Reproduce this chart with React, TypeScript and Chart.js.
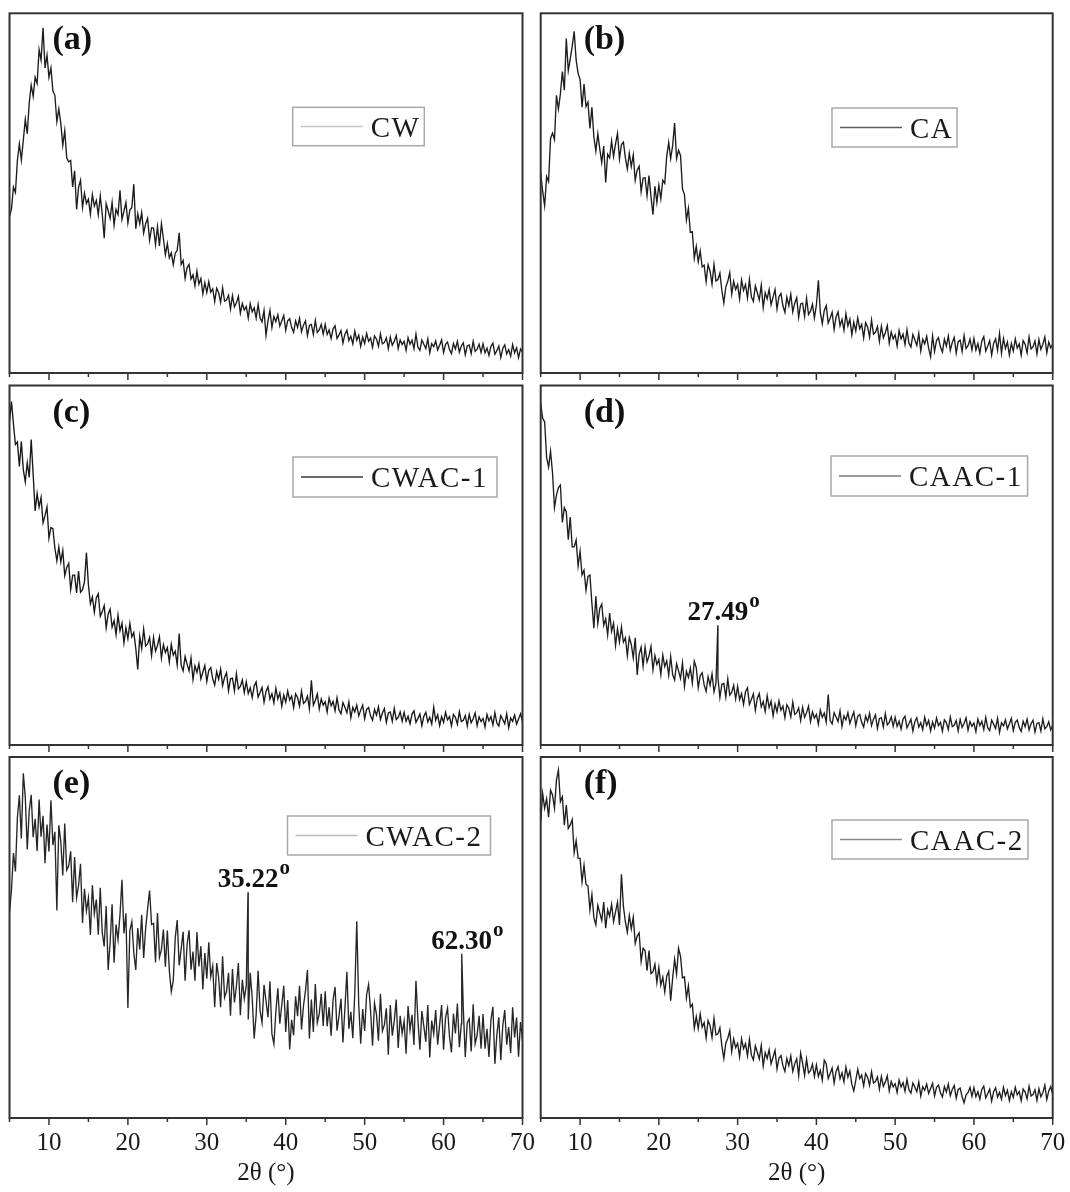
import React, { useEffect, useRef } from "react";
import { Chart, registerables } from "chart.js";

Chart.register(...registerables);

// Scan grid (2θ, degrees): every value below belongs to one scan step.
const SCAN_START = 5;
const SCAN_STEP = 0.25;
const X_MIN = 5;
const X_MAX = 70;
const X_STEP = 5;
const LABELLED_EVERY = 10;
const AXIS_TITLE = "2θ (°)";

// Intensities (a.u.) from 5° to 70°, 20 steps per row (5° per row).
const CW = [
  43.5, 45.6, 51.7, 50.2, 59.1, 63.7, 59.2, 64.7, 70.5, 66.5, 75.1, 80, 76.9, 82.2, 80.5, 89.9, 87, 96, 84.8, 88.4,
  82.2, 84.8, 78.4, 77.2, 69.9, 73.4, 69.4, 63.3, 67.4, 59.8, 58.7, 59.1, 51.7, 56.2, 45.5, 51.6, 53.6, 46, 50, 47.1,
  48.3, 44.1, 49.6, 46.4, 48, 44, 49.2, 44.2, 37.5, 47.1, 45.1, 43, 47.4, 41.1, 45.5, 44, 50.8, 42.7, 45, 47.4,
  41.7, 45.3, 46, 52.5, 40.1, 44.3, 41.5, 44.6, 38.9, 41.5, 43, 36.9, 40.4, 40.3, 35.7, 40.7, 35.3, 41.5, 37.4, 32.9,
  36, 32, 33.4, 30.1, 33.3, 34.1, 39, 30.2, 31.3, 26.3, 29.3, 30.2, 26.1, 27.3, 24.2, 28.3, 24.7, 26.3, 22, 25.1,
  22.4, 25.4, 22.5, 23.4, 19.9, 23.6, 22.3, 19.6, 23.7, 20, 20.3, 21.6, 17.8, 21.5, 18.4, 19.5, 21.3, 16.6, 19.3, 17.5,
  18.5, 15.3, 19.3, 17, 18.1, 15.3, 19, 15.3, 14.2, 17.4, 10.5, 14.4, 17.4, 12.6, 15.7, 14.3, 16.2, 13, 14.5, 16,
  11.9, 14.5, 15.1, 12.7, 11.3, 14.5, 12.7, 15.2, 11.5, 13.3, 14.5, 10.4, 13.2, 13.5, 10.7, 14.6, 11.3, 12, 13.5, 10.8,
  13.5, 10.7, 12, 9.6, 12.3, 13.1, 9.6, 10.6, 11.8, 8.3, 10.8, 11.9, 9, 10.2, 8.1, 11.6, 9.1, 10.5, 7.4, 10,
  8.2, 11, 8.8, 9.7, 7.1, 10.3, 9.4, 7.4, 10.9, 8.1, 8.5, 9.8, 6.8, 10, 7.7, 8.8, 10.4, 6.8, 9.2, 7.9,
  8.8, 6.3, 9.8, 8, 9.1, 6.8, 10.8, 7.2, 6.3, 9.2, 8, 6.8, 9.5, 5.6, 8.2, 7.3, 8.9, 6.4, 7.7, 9.2,
  5.7, 8, 8.6, 6.5, 5.4, 8.2, 6.7, 8.8, 5.8, 7.5, 8.4, 5.1, 7.5, 7.8, 5.4, 8.8, 6, 6.6, 8, 5.7,
  8.1, 5.6, 6.9, 4.9, 7.4, 8.3, 5.2, 6.2, 7.5, 4.3, 6.8, 7.8, 5.3, 6.5, 4.7, 7.9, 5.6, 7, 4.3, 6.7,
  5.8,
];

const CA = [
  55.5, 50.5, 46.5, 54.6, 53.2, 65.2, 66.7, 64.9, 77.2, 73.4, 77.6, 83.8, 78.6, 93, 84, 87.3, 90.8, 95, 87, 83.3,
  81.6, 73.9, 80.3, 74.1, 75.3, 68, 73.9, 65.6, 61.7, 66.5, 62.3, 58.5, 63.1, 53, 60.8, 59.8, 64.5, 60.2, 63.7, 66.6,
  59.5, 63.5, 64.2, 59.8, 56.7, 61.1, 57.4, 60.6, 53.6, 56.4, 57.5, 50.4, 54.2, 54.3, 49.3, 54.9, 49, 44, 51.9, 47.4,
  52.2, 48.4, 53.6, 52.7, 60.3, 64.1, 59.6, 63.2, 69.5, 59.6, 61.9, 60.5, 51.2, 49.6, 42.5, 45.8, 39.1, 39.3, 31.9, 35.2,
  30.9, 33.9, 29.5, 30, 25.4, 30.1, 28.3, 24.7, 30.2, 25.6, 26, 27.8, 22.9, 19.5, 23.9, 25.5, 27.9, 21.9, 25.5, 23.2,
  24.6, 20.6, 25.9, 23, 24.6, 20.9, 26, 21.2, 19.9, 24.2, 22.3, 20.3, 24.4, 18.2, 22.3, 20.6, 23.2, 19, 21.1, 23.2,
  17.8, 21.2, 22.1, 18.7, 16.9, 21.1, 18.7, 21.9, 17, 19.4, 20.9, 15.5, 19.2, 19.4, 15.7, 20.8, 16.3, 17.2, 19.1, 15.3,
  18.9, 25.8, 16.9, 13.7, 17.4, 18.7, 13.9, 15.3, 16.9, 12.1, 15.6, 17, 13.1, 14.9, 11.9, 16.5, 13.1, 15, 10.6, 14.1,
  11.7, 15.3, 12.3, 13.5, 9.8, 14, 12.8, 10, 14.7, 10.8, 11.3, 12.9, 8.8, 13, 9.8, 11.2, 13.2, 8.3, 11.4, 9.5,
  10.6, 7.5, 11.8, 9.5, 10.8, 7.9, 12, 8.3, 7.2, 10.7, 9.2, 7.7, 11, 6.1, 9.4, 8.1, 10.2, 6.9, 4.5, 10.3,
  6, 9, 9.8, 7.2, 5.8, 9.4, 7.5, 10.3, 6.3, 8.5, 9.9, 5.5, 8.7, 9.1, 6, 10.4, 6.8, 7.6, 9.4, 6.4,
  9.6, 6.4, 8.2, 5.5, 8.9, 10.1, 6.1, 7.4, 9, 5, 8.2, 9.5, 6.3, 11, 5.5, 9.6, 6.8, 8.6, 5, 8.2,
  6.1, 9.5, 6.9, 8.1, 5, 9, 8, 5.6, 10, 6.7, 7.3, 8.9, 5.3, 9.3, 6.6, 8, 10, 5.6, 8.6, 7,
  8,
];

const CWAC1 = [
  90.1, 95.5, 89.3, 83.6, 84.3, 77.5, 84.4, 76.6, 73.2, 78.5, 74.4, 85, 75.2, 65.1, 70, 66.2, 68.9, 61.8, 63.8, 66.2,
  57.5, 60.5, 60.2, 54.8, 51.2, 55.1, 50.9, 54.1, 47.1, 49.4, 50.5, 43.2, 47.2, 47.3, 42.3, 48.4, 42.5, 43.2, 45.4, 53.5,
  44.5, 39.3, 41.2, 36.9, 41, 42.1, 35.8, 37.1, 38.8, 32.6, 36.4, 37.8, 32.8, 34.6, 30.7, 36.1, 31.8, 33.9, 28.4, 32.6,
  29.6, 33.8, 30.1, 31.3, 26.9, 21, 30.2, 26.8, 32.2, 27.6, 28.1, 29.9, 24.9, 29.9, 26.1, 27.7, 30.1, 24.2, 27.9, 25.7,
  27.1, 23.1, 28, 25, 26.1, 22.3, 31, 22.2, 20.6, 24.6, 22.5, 20.6, 24.2, 18.2, 22, 20.2, 22.6, 18.4, 20.3, 22.1,
  17.7, 20.8, 21.5, 18.4, 16.7, 20.4, 18.3, 21.1, 16.5, 18.8, 20.1, 15.1, 18.4, 18.6, 15.1, 19.8, 15.6, 16.3, 18.1, 14.6,
  17.6, 14.3, 15.9, 13.2, 16.4, 17.5, 13.3, 14.6, 16, 11.9, 14.9, 16.2, 12.8, 14.3, 11.7, 15.8, 12.8, 14.5, 10.8, 13.9,
  11.9, 15, 12.5, 13.6, 10.4, 14.2, 13.2, 10.8, 15, 11.6, 12.1, 13.6, 10.1, 18, 11.1, 12.4, 14.2, 10, 12.8, 11.1,
  12, 9.2, 13.1, 10.9, 12.1, 9.5, 13.1, 9.7, 8.7, 11.8, 10.5, 9, 12, 7.6, 10.5, 9.2, 11.1, 8.1, 9.7, 11.1,
  7.3, 9.9, 10.4, 8.1, 6.9, 9.9, 8.3, 10.6, 7.1, 8.9, 10.1, 6.3, 8.9, 9.2, 6.6, 10.2, 7.1, 7.7, 9.2, 6.6,
  9.1, 6.6, 8, 5.9, 8.6, 9.5, 6.3, 7.4, 8.6, 5.4, 8, 9.1, 6.4, 7.7, 5.8, 10.5, 6.9, 8.4, 5.4, 7.9,
  6.3, 9.1, 7, 7.9, 5.3, 8.5, 7.7, 5.8, 9.3, 6.5, 6.9, 8.2, 5.3, 8.5, 6.2, 7.3, 8.9, 5.4, 7.8, 6.5,
  7.4, 5, 8.5, 6.7, 7.9, 5.6, 9, 6.1, 5.3, 8.2, 7.1, 5.9, 8.7, 4.8, 7.5, 6.6, 8.3, 5.8, 7.2, 8.7,
  6.5,
];

const CAAC1 = [
  95, 90.9, 89.9, 80, 77.3, 81.7, 75.7, 66, 69.5, 71.6, 72.3, 61.9, 66, 64.8, 57.1, 63.4, 55.1, 55.1, 57, 49.8,
  53.9, 47.3, 48.6, 43, 46.9, 47.3, 39.4, 32.5, 41.4, 33.8, 38, 39.2, 33.3, 35.1, 30.6, 36.7, 31.6, 33.9, 27.7, 32.3,
  28.6, 32.8, 28.6, 29.8, 24.8, 29.9, 28, 24.2, 29.8, 19.5, 25.2, 27.2, 21.9, 27.2, 23.1, 24.8, 27.4, 20.9, 24.9, 22.4,
  23.8, 19.6, 25, 21.8, 23.4, 19.4, 24.6, 19.6, 18.1, 22.6, 20.6, 18.5, 22.8, 16.3, 20.5, 18.8, 21.4, 17.2, 23.3, 21.5,
  15.9, 19.3, 20.1, 16.7, 14.9, 19, 16.6, 19.8, 14.8, 17.2, 18.7, 13.2, 16.9, 17.1, 13.3, 18.4, 13.9, 14.7, 16.6, 12.8,
  16.3, 12.6, 14.3, 11.3, 14.8, 15.9, 11.3, 12.7, 14.2, 9.6, 13, 14.3, 10.6, 12.1, 9.3, 13.7, 10.4, 12.2, 8.1, 11.4,
  9.2, 12.3, 9.7, 10.8, 7.6, 11.2, 10.2, 7.8, 11.9, 8.5, 9, 10.3, 6.8, 10.5, 7.7, 9, 10.8, 6.5, 9.2, 7.5,
  8.5, 5.8, 9.7, 7.7, 8.9, 6.4, 14, 6.8, 5.9, 9, 7.8, 6.5, 9.5, 5.2, 8.1, 7, 9, 6, 7.7, 9.2,
  5.4, 8, 8.5, 6.3, 5, 8.1, 6.5, 8.8, 5.4, 7.2, 8.4, 4.6, 7.3, 7.6, 5, 8.7, 5.6, 6.3, 7.8, 5.2,
  7.7, 5.2, 6.6, 4.4, 7.2, 8, 4.8, 5.9, 7.2, 3.9, 6.5, 7.6, 5, 6.2, 4.3, 7.7, 5.4, 6.8, 3.9, 6.4,
  4.7, 7.5, 5.4, 6.3, 3.8, 7, 6.2, 4.3, 7.8, 5.1, 5.5, 6.8, 3.9, 7.1, 4.9, 6, 7.6, 4.1, 6.5, 5.2,
  6.1, 3.7, 7.2, 5.4, 6.6, 4.3, 7.7, 4.8, 4, 6.9, 5.8, 4.6, 7.4, 3.5, 6.2, 5.3, 7, 4.5, 5.9, 7.4,
  4, 6.3, 6.9, 4.9, 3.8, 6.6, 5.1, 7.2, 4.2, 5.9, 6.9, 3.6, 6, 6.2, 3.9, 7.3, 4.5, 5.1, 6.5, 4.2,
  5.5,
];

const CWAC2 = [
  57, 63.1, 73.4, 68.3, 83.2, 89.4, 77.4, 95.5, 88.9, 74.4, 85.1, 89.5, 77.8, 82.9, 74, 88.2, 77.9, 83.7, 70.6, 81.3,
  73.8, 88, 75.6, 79.3, 57.5, 81.1, 76.6, 67.2, 81.6, 68.7, 69.8, 73.9, 59.8, 72.3, 61, 64.4, 70.4, 54, 63.5, 57.4,
  61, 50.7, 64.5, 56.6, 60.5, 50.8, 63.8, 51.4, 47.5, 58.7, 41, 48.6, 59.2, 43, 53.6, 49.4, 56.3, 66, 51.1, 56.7,
  30.5, 52, 54.4, 45.7, 41, 52.6, 46.7, 56.3, 44.3, 52.5, 58, 63, 53.6, 53.9, 43.1, 56.8, 44.5, 46.7, 52.2, 41.9,
  51.9, 40.9, 35, 38.1, 49.9, 54.8, 42.3, 46.8, 51.6, 38, 48, 52, 41.1, 46.1, 38, 51.5, 42, 47.6, 35.6, 45.7,
  38.6, 48.7, 39.2, 42.1, 30.7, 42.9, 39, 30.7, 44.8, 33.4, 35.1, 40.2, 28.3, 41.3, 32, 36.5, 42.9, 28.5, 38.3, 33,
  36.6, 27.3, 40.2, 33.3, 22, 28.5, 40.8, 29.7, 26.4, 36.9, 32.4, 27.9, 37.9, 23.3, 20.5, 29.5, 35.9, 26.1, 31.3, 36.6,
  23.8, 32.7, 19, 27.2, 22.9, 33.7, 28.2, 36.6, 24.5, 31.1, 35.2, 41, 22, 32.8, 23.8, 37.1, 26.4, 28.9, 34.4, 25.5,
  35.1, 25.4, 30.7, 22.8, 32.8, 36.3, 24.2, 28.3, 33, 20.9, 30.4, 40.5, 24.7, 29.4, 22.1, 34.6, 54.5, 31.5, 20.6, 30.2,
  24.1, 34.2, 37, 29.7, 20, 31.8, 28.7, 21.4, 34.4, 24.1, 25.8, 30.4, 17.5, 31.3, 22.8, 26.9, 32.8, 19.4, 28.3, 23.4,
  26.8, 17.8, 31, 24.4, 28.6, 20.2, 38, 27, 18.9, 29.6, 25.4, 21.1, 31.3, 16.8, 27, 23.3, 29.9, 20.3, 25.8, 31.3,
  18.9, 27.9, 30.4, 22.5, 18.2, 28.9, 23.4, 31.7, 19.6, 26.1, 30.2, 16.9, 26.4, 27.5, 18.4, 31.5, 20.6, 22.9, 28.3, 19.2,
  28.8, 19.2, 24.7, 16.9, 27.2, 30.8, 15, 23.1, 27.9, 16, 25.6, 29.9, 20.3, 25.2, 18, 30.7, 22.3, 27.8, 17, 26.6,
  21.5,
];

const CAAC2 = [
  82, 89.9, 85.8, 88.4, 83.3, 90.8, 89.5, 85.8, 93.6, 96.4, 87.6, 89, 81.1, 86.7, 80.2, 81.2, 82.7, 73.5, 76.8, 72,
  71.9, 65.4, 70, 64.7, 64.3, 57.6, 61.9, 55.5, 53.5, 58.9, 56.8, 54.7, 59.8, 52.6, 57.7, 55.9, 59.2, 54.4, 57.1, 59.8,
  53.5, 67.5, 58.7, 54.3, 51.5, 56.1, 52.4, 55.6, 48.4, 50.4, 51.3, 43.4, 47, 46.4, 40.8, 46.4, 40, 40.5, 42.6, 37.5,
  41.7, 36.8, 39, 34.9, 39.3, 40.6, 32.5, 38.7, 44, 39.9, 47, 44.8, 38.8, 39.1, 33.2, 36.6, 30.7, 31.5, 24.9, 28.1,
  24.8, 28.8, 25.2, 26.4, 22.2, 27, 25.6, 22.3, 27.6, 23, 23.3, 25, 20, 16.5, 20.7, 22.1, 24.2, 18.4, 21.9, 19.5,
  20.7, 17, 21.9, 19.2, 20.6, 17.2, 21.8, 17.4, 16.1, 20, 18.2, 16.4, 20.1, 14.4, 18.1, 16.5, 18.9, 15, 16.9, 18.7,
  13.6, 16.6, 17.3, 14.5, 12.9, 16.5, 14.5, 17.2, 12.9, 15, 16.4, 11.7, 18, 15.2, 11.8, 16.3, 12.5, 13.1, 14.9, 11.5,
  14.7, 11.5, 13.2, 10.5, 16, 15, 10.9, 12.3, 13.8, 9.7, 12.9, 14.2, 10.9, 12.5, 10, 14.1, 11.3, 13, 9.3, 7.5,
  10.5, 13.5, 10.9, 11.9, 8.9, 12.3, 11.3, 9, 12.8, 9.7, 10.1, 11.4, 8, 11.5, 8.8, 10, 11.7, 7.5, 10.1, 8.6,
  9.5, 7.1, 10.5, 8.6, 9.8, 7.4, 10.7, 7.8, 6.9, 9.7, 8.6, 7.3, 10, 6.1, 8.7, 7.7, 9.4, 6.8, 8.2, 9.6,
  6.1, 8.5, 9.1, 7, 5.8, 8.7, 7.2, 9.4, 6.2, 7.9, 9, 5.5, 7.9, 8.3, 5.9, 4.2, 6.4, 7, 8.5, 6,
  8.4, 5.9, 7.3, 5.2, 7.9, 8.8, 5.6, 6.7, 8, 4.7, 7.3, 8.4, 5.8, 7.1, 5.2, 8.5, 6.2, 7.7, 4.8, 7.3,
  5.7, 8.5, 6.4, 7.3, 4.8, 8, 7.2, 5.3, 8.8, 6.1, 6.5, 7.8, 4.9, 8.1, 5.9, 7, 9.1, 5.1, 7.5, 8.7,
  6.5,
];

// Labelled reflections: [2θ, intensity]
type Peak = [number, number];
const CAAC1_PEAKS: Peak[] = [[27.49, 33.3]];
const CWAC2_PEAKS: Peak[] = [[35.22, 62.5], [62.3, 45.5]];

const SERIF = '"Liberation Serif", "Times New Roman", Times, serif';
const TEXT = "#1a1a1a";
const FRAME = "#333333";

interface LegendBox { dx: number; dy: number; w: number; h: number }
interface PanelDef {
  tag: string;
  name: string;
  values: number[];
  peaks: Peak[];
  traceColor: string;
  legendColor: string;
  col: number;
  row: number;
  legend: LegendBox;
}

const PANELS: PanelDef[] = [
  { tag: "(a)", name: "CW", values: CW, peaks: [], traceColor: "#1c1c1c", legendColor: "#c6c6c6", col: 0, row: 0, legend: { dx: 283.2, dy: 94, w: 131.6, h: 38.4 } },
  { tag: "(b)", name: "CA", values: CA, peaks: [], traceColor: "#1c1c1c", legendColor: "#5c5c5c", col: 1, row: 0, legend: { dx: 291.3, dy: 94.7, w: 125, h: 39 } },
  { tag: "(c)", name: "CWAC-1", values: CWAC1, peaks: [], traceColor: "#181818", legendColor: "#383838", col: 0, row: 1, legend: { dx: 283.5, dy: 71.5, w: 204, h: 40 } },
  { tag: "(d)", name: "CAAC-1", values: CAAC1, peaks: CAAC1_PEAKS, traceColor: "#1e1e1e", legendColor: "#7a7a7a", col: 1, row: 1, legend: { dx: 290.3, dy: 70.5, w: 196.6, h: 40 } },
  { tag: "(e)", name: "CWAC-2", values: CWAC2, peaks: CWAC2_PEAKS, traceColor: "#262626", legendColor: "#b8b8b8", col: 0, row: 2, legend: { dx: 278, dy: 59, w: 203, h: 39 } },
  { tag: "(f)", name: "CAAC-2", values: CAAC2, peaks: [], traceColor: "#1e1e1e", legendColor: "#8a8a8a", col: 1, row: 2, legend: { dx: 291.3, dy: 63, w: 196, h: 39 } },
];

const COLUMNS = [
  { left: 0, width: 540, padLeft: 9.5, padRight: 17.5 },
  { left: 530, width: 540, padLeft: 10.7, padRight: 17.3 },
];
const ROWS = [
  { top: 0, height: 383, padTop: 13.3, axisHeight: 10 },
  { top: 383, height: 372, padTop: 2.5, axisHeight: 10 },
  { top: 755, height: 437, padTop: 2, axisHeight: 74 },
];

function buildPoints(values: number[], peaks: Peak[]) {
  const pts = values.map((y, i) => ({ x: SCAN_START + i * SCAN_STEP, y }));
  peaks.forEach(([x, y]) => pts.push({ x, y }));
  pts.sort((a, b) => a.x - b.x);
  return pts;
}

function panelDecor(p: PanelDef) {
  return {
    id: "panelDecor",
    afterDraw(chart: any) {
      const { ctx, chartArea } = chart;
      const { left, right, top, bottom } = chartArea;
      const xs = chart.scales.x;
      const ys = chart.scales.y;
      ctx.save();

      // tick marks below the frame (long at labelled positions)
      ctx.strokeStyle = FRAME;
      ctx.lineWidth = 1.5;
      for (const t of xs.ticks) {
        const px = xs.getPixelForValue(t.value);
        const len = t.value % LABELLED_EVERY === 0 ? 7 : 4;
        ctx.beginPath();
        ctx.moveTo(px, bottom);
        ctx.lineTo(px, bottom + len);
        ctx.stroke();
      }

      // frame
      ctx.lineWidth = 2;
      ctx.strokeRect(left, top, right - left, bottom - top);

      // panel tag
      ctx.fillStyle = "#111111";
      ctx.font = `bold 34px ${SERIF}`;
      ctx.textAlign = "left";
      ctx.textBaseline = "alphabetic";
      ctx.fillText(p.tag, left + 43, top + 36);

      // legend box
      const { dx, dy, w, h } = p.legend;
      const bx = left + dx;
      const by = top + dy;
      ctx.fillStyle = "#ffffff";
      ctx.fillRect(bx, by, w, h);
      ctx.strokeStyle = "#a8a8a8";
      ctx.lineWidth = 1.5;
      ctx.strokeRect(bx, by, w, h);
      ctx.strokeStyle = p.legendColor;
      ctx.lineWidth = 1.6;
      ctx.beginPath();
      ctx.moveTo(bx + 8, by + h / 2);
      ctx.lineTo(bx + 70, by + h / 2);
      ctx.stroke();
      ctx.fillStyle = TEXT;
      ctx.font = `29px ${SERIF}`;
      (ctx as any).letterSpacing = "1.5px";
      ctx.fillText(p.name, bx + 78, by + h / 2 + 10);
      (ctx as any).letterSpacing = "0px";

      // reflection labels
      for (const [angle, value] of p.peaks) {
        const px = xs.getPixelForValue(angle);
        const py = ys.getPixelForValue(value);
        const txt = angle.toFixed(2);
        ctx.font = `bold 27px ${SERIF}`;
        ctx.textAlign = "center";
        ctx.fillStyle = "#111111";
        ctx.fillText(txt, px, py - 5);
        const tw = ctx.measureText(txt).width;
        ctx.font = `bold 21px ${SERIF}`;
        ctx.textAlign = "left";
        ctx.fillText("o", px + tw / 2 + 1, py - 18);
      }
      ctx.restore();
    },
  };
}

function Panel({ p }: { p: PanelDef }) {
  const ref = useRef<HTMLCanvasElement | null>(null);
  const col = COLUMNS[p.col];
  const row = ROWS[p.row];
  const isBottom = p.row === ROWS.length - 1;

  useEffect(() => {
    if (!ref.current) return;
    const chart = new Chart(ref.current, {
      type: "line",
      data: {
        datasets: [
          {
            label: p.name,
            data: buildPoints(p.values, p.peaks),
            borderColor: p.traceColor,
            borderWidth: 1.35,
            pointRadius: 0,
            tension: 0,
            fill: false,
          },
        ],
      },
      options: {
        animation: false,
        responsive: false,
        events: [],
        layout: { padding: { left: col.padLeft, right: col.padRight, top: row.padTop, bottom: 0 } },
        plugins: { legend: { display: false }, tooltip: { enabled: false } },
        scales: {
          x: {
            type: "linear",
            min: X_MIN,
            max: X_MAX,
            ticks: {
              stepSize: X_STEP,
              display: isBottom,
              autoSkip: false,
              maxRotation: 0,
              padding: 3,
              color: TEXT,
              font: { family: SERIF, size: 25 },
              callback: (v: any) => (Number(v) % LABELLED_EVERY === 0 ? String(v) : ""),
            },
            grid: { display: false, drawTicks: true, tickLength: 7 },
            border: { display: false },
            title: {
              display: isBottom,
              text: AXIS_TITLE,
              color: TEXT,
              font: { family: SERIF, size: 25 },
              padding: { top: 0, bottom: 4 },
            },
            afterFit: (s: any) => {
              s.height = row.axisHeight;
              s.paddingLeft = 0;
              s.paddingRight = 0;
            },
          },
          y: { display: false, min: 0, max: 100 },
        },
      } as any,
      plugins: [panelDecor(p)],
    });
    return () => chart.destroy();
  }, []);

  return (
    <canvas
      ref={ref}
      width={col.width}
      height={row.height}
      style={{ position: "absolute", left: col.left, top: row.top, width: col.width, height: row.height, display: "block" }}
    />
  );
}

export default function App() {
  return (
    <div style={{ position: "absolute", left: 0, top: 0, width: 1070, height: 1192, background: "#ffffff", overflow: "hidden" }}>
      {PANELS.map((p) => (
        <Panel key={p.name} p={p} />
      ))}
    </div>
  );
}
